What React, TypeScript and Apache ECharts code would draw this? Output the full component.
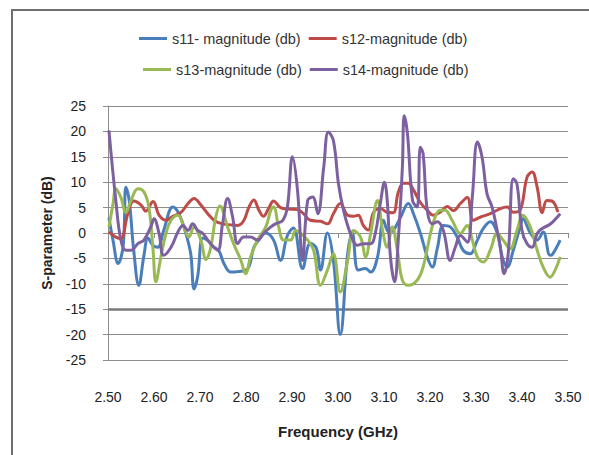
import React, { useEffect, useRef } from "react";
import * as echarts from "echarts";

const seriesNames = [
  "s11- magnitude (db)",
  "s12-magnitude (db)",
  "s13-magnitude (db)",
  "s14-magnitude (db)",
];

const xTickLabels = ["2.50", "2.60", "2.70", "2.80", "2.90", "3.00", "3.10", "3.20", "3.30", "3.40", "3.50"];
const yTicks = [25, 20, 15, 10, 5, 0, -5, -10, -15, -20, -25];

const s11Freq = [2.502, 2.511, 2.522, 2.533, 2.539, 2.546, 2.556, 2.567, 2.578, 2.587, 2.598, 2.608, 2.621, 2.641, 2.654, 2.669, 2.680, 2.687, 2.695, 2.706, 2.717, 2.730, 2.741, 2.752, 2.767, 2.782, 2.804, 2.817, 2.828, 2.843, 2.860, 2.875, 2.890, 2.903, 2.923, 2.940, 2.953, 2.962, 2.977, 2.990, 3.005, 3.021, 3.031, 3.044, 3.060, 3.071, 3.086, 3.099, 3.110, 3.120, 3.136, 3.153, 3.164, 3.179, 3.194, 3.205, 3.216, 3.229, 3.244, 3.259, 3.272, 3.287, 3.303, 3.316, 3.331, 3.346, 3.357, 3.368, 3.381, 3.396, 3.402, 3.418, 3.433, 3.446, 3.461, 3.467, 3.483];
const s11Db = [3, -1.5, -6, -2.5, 9, 6.5, -3.5, -10.3, -4.5, -1, -2.5, -2.8, 0.5, 5.1, 3.8, 0, -4.2, -11, -8.5, -1, -1.5, -2.8, -3.5, -6, -7.7, -7.6, -7, -2.8, -1.4, 0, -1.4, -5.4, -0.5, 1, -7, -2, -3, -7.3, 0, -5.4, -20, -4.1, 0, -7.3, -7, -7.7, -4.7, 2.5, 0.2, 0.5, 3.1, 5.8, 3.8, 0, -4.7, -6.7, -3, 1.5, 1.2, -0.8, -3.4, -4.1, -1.4, 0.9, 2.2, 0, -4.7, -6.7, -3.4, 1.2, 2.8, 0, -1.4, 0.2, -4.4, -4.1, -1.4];

const s12Freq = [2.502, 2.517, 2.528, 2.543, 2.556, 2.572, 2.582, 2.598, 2.611, 2.626, 2.641, 2.658, 2.674, 2.687, 2.702, 2.717, 2.732, 2.749, 2.767, 2.782, 2.795, 2.806, 2.817, 2.828, 2.838, 2.849, 2.860, 2.875, 2.893, 2.912, 2.925, 2.940, 2.962, 2.977, 2.990, 3.005, 3.021, 3.034, 3.044, 3.055, 3.066, 3.077, 3.092, 3.107, 3.120, 3.131, 3.142, 3.153, 3.164, 3.179, 3.194, 3.207, 3.222, 3.238, 3.251, 3.266, 3.281, 3.294, 3.309, 3.331, 3.353, 3.368, 3.381, 3.396, 3.411, 3.422, 3.433, 3.444, 3.454, 3.465, 3.478];
const s12Db = [0.2, -0.8, -1.1, 3.8, 6.3, 5.5, 4.3, 6.2, 3.5, 2.5, 3.3, 4, 5.8, 6.8, 5.5, 3.8, 2.4, 1.8, 1.6, 1.5, 2.4, 5, 6.5, 4.5, 3.3, 4.8, 6.3, 5, 4.7, 4.6, 3.8, 2.5, 2.3, 1.8, 3.8, 5.8, 3.5, 3.3, 3.5, 1.5, 0.6, 4, 4.8, 4.1, 4, 8, 9.8, 9.8, 8.5, 6, 4.5, 3.5, 4.1, 5.2, 4.4, 5.8, 7, 2.5, 3.1, 3.8, 4.8, 5.1, 4.1, 4.5, 11, 12, 9, 4, 6.4, 6.3, 4.1];

const s13Freq = [2.502, 2.511, 2.517, 2.528, 2.539, 2.550, 2.565, 2.578, 2.589, 2.598, 2.604, 2.615, 2.626, 2.637, 2.652, 2.665, 2.676, 2.687, 2.702, 2.713, 2.723, 2.734, 2.743, 2.760, 2.773, 2.789, 2.799, 2.810, 2.825, 2.843, 2.854, 2.860, 2.871, 2.882, 2.897, 2.908, 2.919, 2.934, 2.947, 2.962, 2.977, 2.990, 3.005, 3.021, 3.034, 3.049, 3.060, 3.071, 3.086, 3.097, 3.107, 3.118, 3.129, 3.140, 3.153, 3.172, 3.185, 3.201, 3.211, 3.222, 3.233, 3.248, 3.266, 3.281, 3.292, 3.303, 3.316, 3.331, 3.346, 3.359, 3.374, 3.389, 3.402, 3.418, 3.433, 3.446, 3.461, 3.472, 3.483];
const s13Db = [1.2, 5.8, 8.7, 7, 4, 6.4, 8.7, 8.1, 5, -3.4, -9.6, -4.7, -0.1, 2.5, 3.5, 1.2, -0.8, 1.2, -1.5, -5.2, -3, 3, 5.3, 1.2, -2.1, -5.4, -8, -4.7, -1.4, 1.2, 4.5, 5.1, 1.2, -1.4, -1.4, 0.5, -0.1, -1.4, -3.4, -10.3, -7.3, -4.1, -11.6, -5.4, 0.5, -0.8, -4.7, -0.1, 6.4, 0.5, -2.8, 1.2, -3.4, -9.3, -10.3, -9.3, -6.7, -0.1, 3.1, 4.5, 4.5, 2.5, -0.1, 1.5, -1.4, -4.7, -5.7, -3.4, -0.1, -1.4, -3.1, 0.5, 3.5, 1.2, -3.4, -6.7, -8.7, -7.3, -4.7];

const s14Freq = [2.502, 2.517, 2.528, 2.539, 2.550, 2.565, 2.578, 2.593, 2.600, 2.611, 2.621, 2.637, 2.652, 2.663, 2.674, 2.684, 2.695, 2.706, 2.717, 2.730, 2.739, 2.749, 2.760, 2.771, 2.782, 2.795, 2.810, 2.825, 2.838, 2.854, 2.864, 2.880, 2.890, 2.901, 2.912, 2.923, 2.934, 2.945, 2.956, 2.969, 2.979, 2.990, 3.001, 3.012, 3.027, 3.042, 3.055, 3.071, 3.081, 3.092, 3.101, 3.107, 3.114, 3.123, 3.131, 3.140, 3.144, 3.151, 3.162, 3.172, 3.179, 3.185, 3.194, 3.205, 3.216, 3.229, 3.244, 3.255, 3.266, 3.281, 3.292, 3.303, 3.313, 3.324, 3.335, 3.346, 3.353, 3.361, 3.370, 3.381, 3.389, 3.400, 3.411, 3.422, 3.433, 3.444, 3.457, 3.467, 3.483];
const s14Db = [20.2, 6.4, -1.4, -3.4, -3.4, -2.1, -1.4, 1.2, 2.8, -0.1, -4.4, -2.8, 0.2, 1.5, 0.5, 1.8, 0.5, -0.1, -1.4, -2.8, -3.4, 1.8, 6.8, 3.1, -2.1, -0.8, -0.8, -1.4, -0.1, 1.2, 1.8, 2.5, 5.1, 15, 8.4, -5.4, 6.4, 7.1, 3.8, 13, 19.9, 18.2, 9.7, 4.5, -0.1, -2.4, -2.1, -2.1, -0.1, 5.8, 10, 6.4, -4.7, -9.6, -1.4, 13, 23.1, 19.5, 6.4, 5.1, 16.9, 15.6, 4.5, 1.8, 2.2, 0.5, -5.4, -2.8, -0.5, -1.8, 7.1, 17.9, 15, 7.7, 5.1, 0.5, -2.8, -8, -4.1, 10.7, 9.7, 0.5, -2.1, -2.8, -0.1, 0.9, 1.5, 2.2, 3.8];

const colors = ["#4A7EBB", "#BE4B48", "#98B954", "#7D60A0"];

const FONT = "Liberation Sans, Arial, sans-serif";
const GRID_COLOR = "#8c8c8c";

export default function App() {
  const ref = useRef<HTMLDivElement>(null);
  useEffect(() => {
    if (!ref.current) return;
    const chart = echarts.init(ref.current, undefined, { renderer: "svg" });
    const pairs = (f: number[], v: number[]) => f.map((x, i) => [x, v[i]]);
    const all = [
      pairs(s11Freq, s11Db),
      pairs(s12Freq, s12Db),
      pairs(s13Freq, s13Db),
      pairs(s14Freq, s14Db),
    ];
    const legendCommon = {
      icon: "rect",
      itemWidth: 28,
      itemHeight: 3,
      itemGap: 8,
      textStyle: { fontFamily: FONT, fontSize: 14.5, color: "#333" },
    };
    chart.setOption({
      animation: false,
      backgroundColor: "#fff",
      color: colors,
      textStyle: { fontFamily: FONT },
      legend: [
        { ...legendCommon, left: 134, top: 26, data: [seriesNames[0], seriesNames[1]] },
        { ...legendCommon, left: 138, top: 57, data: [seriesNames[2], seriesNames[3]] },
      ],
      graphic: [
        {
          type: "rect",
          shape: { x: 12, y: 10, width: 700, height: 600 },
          style: { fill: "none", stroke: "#6f6f6f", lineWidth: 2 },
          silent: true,
        },
      ],
      grid: { left: 108, right: 21, top: 106, bottom: 95 },
      xAxis: [
        {
          type: "value",
          min: 2.5,
          max: 3.5,
          interval: 0.1,
          axisLine: { show: false, onZero: false },
          axisTick: { show: false },
          splitLine: { show: false },
          axisLabel: {
            margin: 30,
            fontSize: 14,
            fontFamily: FONT,
            color: "#222",
            formatter: (v: number) => {
              const i = Math.round((v - 2.5) / 0.1);
              return xTickLabels[i] ?? "";
            },
          },
          name: "Frequency (GHz)",
          nameLocation: "middle",
          nameGap: 64,
          nameTextStyle: { fontFamily: FONT, fontSize: 15, fontWeight: "bold", color: "#222" },
        },
        {
          type: "value",
          min: 2.5,
          max: 3.5,
          interval: 0.1,
          position: "bottom",
          axisLine: { show: true, onZero: true, lineStyle: { color: GRID_COLOR, width: 1 } },
          axisTick: { show: true, length: 5, lineStyle: { color: GRID_COLOR } },
          axisLabel: { show: false },
          splitLine: { show: false },
        },
      ],
      yAxis: {
        type: "value",
        min: yTicks[yTicks.length - 1],
        max: yTicks[0],
        interval: 5,
        axisLine: { show: true, onZero: false, lineStyle: { color: GRID_COLOR, width: 1 } },
        axisTick: { show: true, length: 5, lineStyle: { color: GRID_COLOR } },
        splitLine: { show: true, lineStyle: { color: GRID_COLOR, width: 1 } },
        axisLabel: { margin: 22, fontSize: 14, fontFamily: FONT, color: "#222" },
        name: "S-parameter (dB)",
        nameLocation: "middle",
        nameGap: 54,
        nameTextStyle: { fontFamily: FONT, fontSize: 14, fontWeight: "bold", color: "#222" },
      },
      series: all.map((d, i) => ({
        name: seriesNames[i],
        type: "line",
        data: d,
        xAxisIndex: 0,
        smooth: 0.4,
        showSymbol: false,
        symbol: "none",
        lineStyle: { width: 3, color: colors[i] },
        itemStyle: { color: colors[i] },
        z: 2 + i,
        ...(i === 0
          ? {
              markLine: {
                silent: true,
                symbol: "none",
                label: { show: false },
                lineStyle: { color: "#7a7a7a", width: 2.5, type: "solid" },
                data: [{ yAxis: -15 }],
                z: 1,
              },
            }
          : {}),
      })),
    });
    return () => chart.dispose();
  }, []);
  return (
    <div
      ref={ref}
      style={{ position: "fixed", left: 0, top: 0, width: 589, height: 455, background: "#fff" }}
    />
  );
}
